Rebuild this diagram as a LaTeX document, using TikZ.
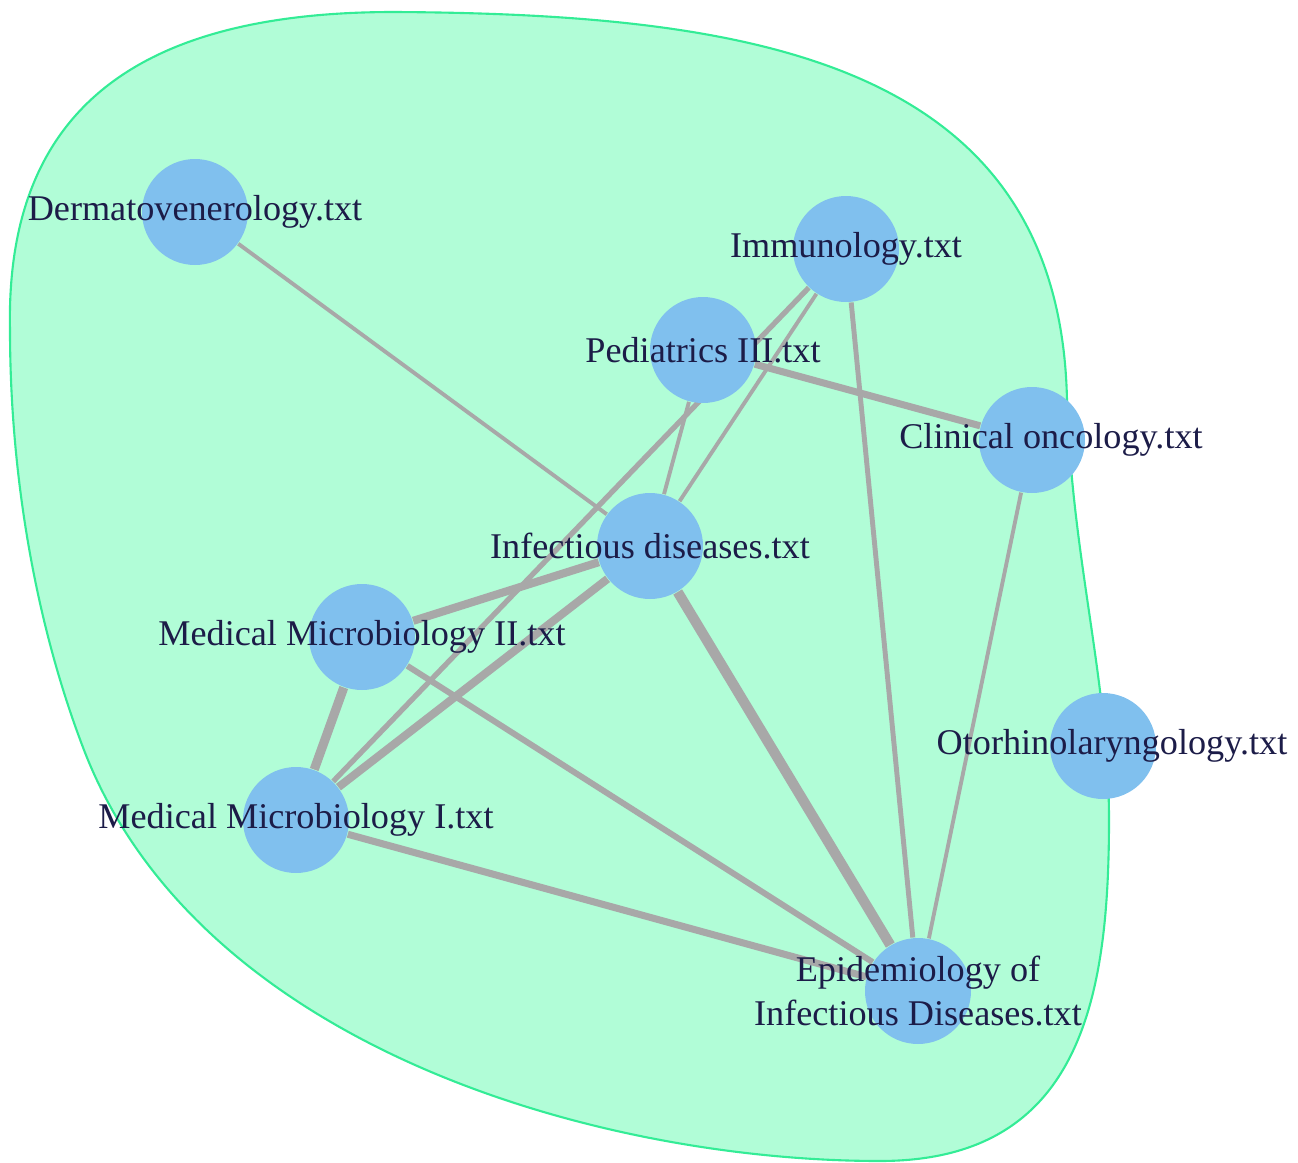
\documentclass[tikz,border=0pt]{standalone}
\usepackage{fontspec}
\setmainfont{Liberation Serif}
\usetikzlibrary{positioning}
\definecolor{hullfill}{HTML}{B1FDD7}
\definecolor{hullline}{HTML}{33EC96}
\definecolor{docblue}{HTML}{80C0EE}
\definecolor{linkgray}{HTML}{A8A8A8}
\definecolor{docink}{HTML}{1C1C48}
\pgfdeclarelayer{hull}
\pgfdeclarelayer{links}
\pgfsetlayers{hull,links,main}
\begin{document}
\begin{tikzpicture}[auto,
    doc/.style ={circle, fill=docblue, inner sep = 0pt, minimum size=1.06cm},
    doctext/.style ={text=docink, font=\fontsize{10.3}{12.5}\selectfont, align=center, inner sep=0pt},
    link/.style ={draw=linkgray}]
   \useasboundingbox (0,0) rectangle (12.98,-11.63);

   \node[doc] (Der)  [label={[doctext]center:Dermatovenerology.txt}] at (1.95,-2.12)  {};
   \node[doc] (Imm)  [label={[doctext]center:Immunology.txt}] at (8.46,-2.49)  {};
   \node[doc] (Ped)  [label={[doctext]center:Pediatrics III.txt}] at (7.03,-3.50)  {};
   \node[doc] (Cli)  [label={[doctext,xshift=0.19cm]center:Clinical oncology.txt}] at (10.32,-4.40)  {};
   \node[doc] (Inf)  [label={[doctext]center:Infectious diseases.txt}] at (6.50,-5.46)  {};
   \node[doc] (MMII) [label={[doctext]center:Medical Microbiology II.txt}] at (3.62,-6.37)  {};
   \node[doc] (Oto)  [label={[doctext,xshift=0.09cm]center:Otorhinolaryngology.txt}] at (11.03,-7.46)  {};
   \node[doc] (MMI)  [label={[doctext]center:Medical Microbiology I.txt}] at (2.96,-8.20)  {};
   \node[doc] (Epi)  [label={[doctext]center:Epidemiology of\\Infectious Diseases.txt}] at (9.18,-9.91)  {};

   % cluster hull
   \begin{pgfonlayer}{hull}
   \draw[draw=hullline, fill=hullfill, line width=0.6pt]
     (3.94,-0.12) .. controls (7.50,-0.14) and (10.60,-0.60) .. (10.67,-4.00)
     .. controls (10.72,-5.60) and (11.09,-6.80) .. (11.09,-8.20)
     .. controls (11.09,-10.00) and (10.80,-11.61) .. (8.80,-11.61)
     .. controls (6.00,-11.61) and (1.99,-10.48) .. (0.84,-7.50)
     .. controls (0.34,-6.20) and (0.10,-4.70) .. (0.10,-3.30)
     .. controls (0.05,-1.00) and (1.50,-0.12) .. (3.94,-0.12) -- cycle;
   \end{pgfonlayer}

   \begin{pgfonlayer}{links}
   \draw[link, line width=1.1pt] (Der) to  (Inf);
   \draw[link, line width=1.5pt] (Imm) to  (MMI);
   \draw[link, line width=1.1pt] (Imm) to  (Inf);
   \draw[link, line width=1.4pt] (Imm) to  (Epi);
   \draw[link, line width=2.0pt] (Ped) to  (Cli);
   \draw[link, line width=1.1pt] (Ped) to  (Inf);
   \draw[link, line width=1.1pt] (Cli) to  (Epi);
   \draw[link, line width=2.3pt] (Inf) to  (MMII);
   \draw[link, line width=2.3pt] (Inf) to  (MMI);
   \draw[link, line width=2.9pt] (Inf) to  (Epi);
   \draw[link, line width=2.6pt] (MMII) to (MMI);
   \draw[link, line width=1.7pt] (MMII) to (Epi);
   \draw[link, line width=2.0pt] (MMI) to  (Epi);
   \end{pgfonlayer}
 \end{tikzpicture}
\end{document}
